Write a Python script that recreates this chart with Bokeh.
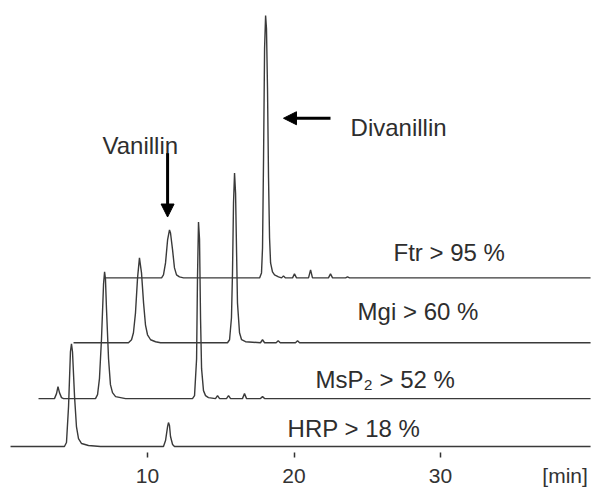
from bokeh.plotting import figure
from bokeh.models import Range1d, FixedTicker, Arrow, NormalHead, ColumnDataSource
from bokeh.core.properties import value
from bokeh.embed import file_html
from bokeh.resources import INLINE

# ---- data (time in min, signal in arbitrary units) ----
hrp_t = [0.65, 4.33, 4.47, 4.61, 4.74, 4.81, 4.88, 5.02, 5.15, 5.29, 5.50, 5.97, 6.79,
         11.09, 11.23, 11.37, 11.43, 11.50, 11.57, 11.71, 11.84, 40.24]
hrp_y = [0, 0, 4, 40, 95, 103, 95, 50, 20, 8, 3, 1, 0,
         0, 6, 20, 24, 21, 10, 2, 0, 0]

msp2_t = [2.56, 3.65, 3.79, 3.89, 3.99, 4.13, 4.27,
          6.45, 6.59, 6.72, 6.86, 7.00, 7.07, 7.13, 7.20, 7.34, 7.47, 7.61, 7.82, 8.16, 8.50,
          13.07, 13.21, 13.35, 13.41, 13.48, 13.55, 13.62, 13.69, 13.82, 13.96, 14.16,
          14.64, 14.78, 14.92, 15.39, 15.53, 15.67, 16.48, 16.62, 16.76, 17.71, 17.85, 17.99, 40.24]
msp2_y = [0, 0, 5, 12, 6, 1, 0,
          0, 4, 20, 60, 115, 127, 120, 90, 40, 14, 6, 2, 1, 0,
          0, 3, 40, 120, 177, 160, 80, 30, 8, 3, 1,
          0, 3, 0, 0, 3, 0, 0, 5, 0, 0, 2, 0, 0]

mgi_t = [4.95, 8.70, 8.91, 9.04, 9.18, 9.32, 9.45, 9.59, 9.73, 9.86, 10.00, 10.21, 10.55, 10.89,
         15.46, 15.60, 15.73, 15.80, 15.87, 15.94, 16.01, 16.08, 16.14, 16.28, 16.42, 16.69,
         17.71, 17.85, 17.99, 18.78, 18.92, 19.06, 20.10, 20.24, 20.38, 40.24]
mgi_y = [0, 0, 3, 10, 30, 65, 85, 70, 40, 18, 8, 3, 1, 0,
         0, 3, 25, 70, 140, 170, 150, 90, 40, 10, 3, 1,
         0, 3, 0, 0, 2, 0, 0, 2, 0, 0]

ftr_t = [7.07, 10.96, 11.09, 11.23, 11.37, 11.50, 11.57, 11.71, 11.84, 11.98, 12.18, 12.46,
         17.65, 17.78, 17.85, 17.92, 17.99, 18.06, 18.12, 18.19, 18.26, 18.33, 18.40, 18.53, 18.67, 18.94,
         19.15, 19.28, 19.42, 19.90, 20.03, 20.17, 20.99, 21.13, 21.26, 22.35, 22.49, 22.63,
         23.52, 23.65, 23.79, 40.24]
ftr_y = [0, 0, 3, 15, 38, 48, 45, 28, 10, 3, 1, 0,
         0, 5, 30, 120, 230, 263, 250, 190, 100, 40, 15, 6, 3, 1,
         0, 2, 0, 0, 4, 0, 0, 8, 0, 0, 4, 0,
         0, 1, 0, 0]

trace_names = ["HRP", "MsP2", "Mgi", "Ftr"]
trace_offsets = [0, 48, 104, 169]

label_texts = ["HRP > 18 %", "MsP\u2082 > 52 %", "Mgi > 60 %", "Ftr > 95 %", "Vanillin", "Divanillin"]
label_x = [19.56, 21.47, 24.34, 26.79, 6.93, 23.86]
label_y = [18, 67, 135, 194, 302, 320]

arrow_x0 = [11.37, 22.49]
arrow_y0 = [294, 329]
arrow_x1 = [11.37, 19.28]
arrow_y1 = [230, 329]

tick_values = [10, 20, 30]
unit_label = "[min]"
unit_pos = 38.5

# ---- figure ----
p = figure(width=593, height=489, output_backend="svg", toolbar_location=None,
           x_range=Range1d(-0.034, 40.44), y_range=Range1d(-6, 447),
           y_axis_location=None, min_border_left=0, min_border_right=0,
           min_border_top=0, min_border_bottom=0)
p.outline_line_color = None
p.xgrid.visible = False
p.ygrid.visible = False
p.background_fill_color = "white"

# labels at 10/20/30 plus the unit; tick marks drawn only at 10/20/30 (as minor ticks)
ax = p.xaxis[0]
ax.ticker = FixedTicker(ticks=tick_values + [unit_pos], minor_ticks=tick_values)
ax.major_label_overrides = {unit_pos: unit_label}
ax.axis_line_color = None
ax.major_tick_in = 0
ax.major_tick_out = 5
ax.major_tick_line_color = None
ax.minor_tick_in = 0
ax.minor_tick_out = 5
ax.minor_tick_line_color = "#333333"
ax.minor_tick_line_width = 1.5
ax.major_label_text_font = "Liberation Sans"
ax.major_label_text_font_size = "21px"
ax.major_label_text_color = "#333333"
ax.major_label_standoff = 6

series = [(hrp_t, hrp_y), (msp2_t, msp2_y), (mgi_t, mgi_y), (ftr_t, ftr_y)]
for (t, y), off in zip(series, trace_offsets):
    src = ColumnDataSource(dict(x=t, y=[v + off for v in y]))
    p.line("x", "y", source=src, line_color="#3a3a3a", line_width=1.4)

p.text(x=label_x, y=label_y, text=label_texts, text_font=value("Liberation Sans"),
       text_font_size=value("24px"), text_color="#2e2e2e",
       text_align="left", text_baseline="alphabetic")

for x0, y0, x1, y1 in zip(arrow_x0, arrow_y0, arrow_x1, arrow_y1):
    p.add_layout(Arrow(x_start=x0, y_start=y0, x_end=x1, y_end=y1,
                       line_color="black", line_width=3,
                       end=NormalHead(size=13, fill_color="black", line_color="black", line_width=1)))

open("out.html", "w").write(file_html(p, INLINE))
